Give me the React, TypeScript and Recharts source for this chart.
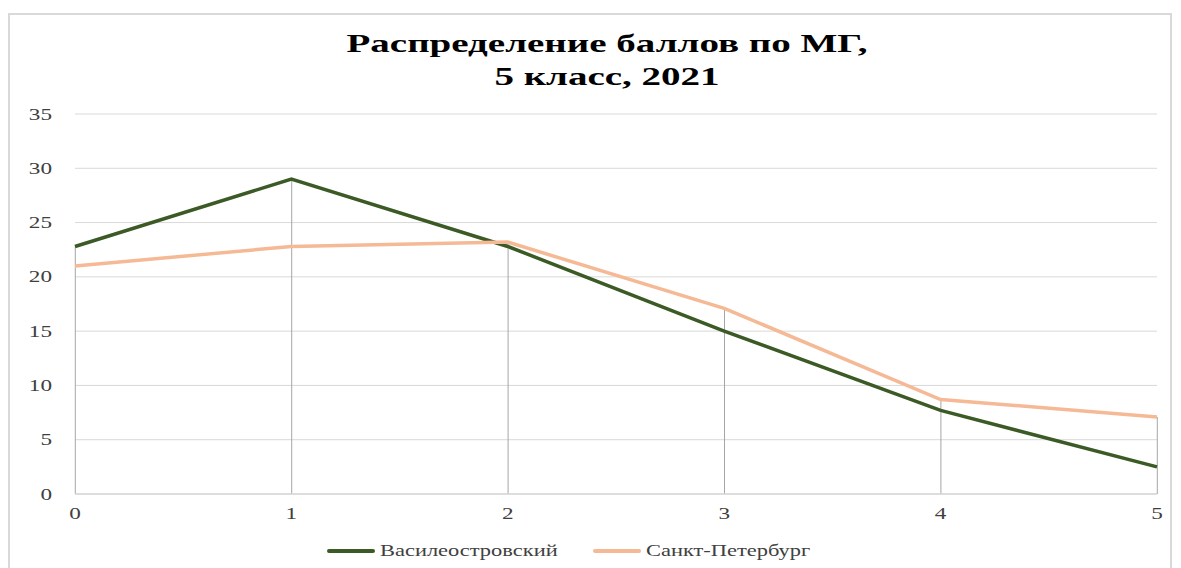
import React from "react";
import { ComposedChart, Line, Bar, XAxis, YAxis, CartesianGrid } from "recharts";

const scores = [0, 1, 2, 3, 4, 5];
const vasileostrovsky = [22.8, 29.0, 22.8, 15.0, 7.7, 2.5];
const spb = [21.0, 22.8, 23.2, 17.1, 8.7, 7.1];
const yTicks = [0, 5, 10, 15, 20, 25, 30, 35];

const SERIES = [
  { key: "vas", name: "Василеостровский", color: "#3b5a25" },
  { key: "spb", name: "Санкт-Петербург", color: "#f5b995" },
];

const data = scores.map((s, i) => ({
  score: s,
  vas: vasileostrovsky[i],
  spb: spb[i],
  drop: Math.max(vasileostrovsky[i], spb[i]),
}));

const FONT = '"Liberation Serif", "Times New Roman", serif';
const STRETCH = 1.45;

function StretchTick(props: any) {
  const { x, y, payload, axis } = props;
  const isY = axis === "y";
  return (
    <g transform={`translate(${x},${y})`}>
      <text
        transform={`scale(${STRETCH},1)`}
        textAnchor={isY ? "end" : "middle"}
        dy={isY ? "0.35em" : "0.71em"}
        fontSize={16}
        fontFamily={FONT}
        fill="#404040"
      >
        {payload.value}
      </text>
    </g>
  );
}

function ChartLegend() {
  return (
    <div
      style={{
        position: "absolute",
        top: 526,
        left: 317,
        height: 20,
        display: "flex",
        alignItems: "center",
      }}
    >
      {SERIES.map((s, i) => (
        <div key={s.key} style={{ display: "flex", alignItems: "center", marginLeft: i ? 33 : 0 }}>
          <div style={{ width: 48, height: 4, borderRadius: 2, background: s.color, marginRight: 5 }} />
          <div
            style={{
              fontFamily: FONT,
              fontSize: 17,
              color: "#404040",
              transform: "scaleX(1.32)",
              transformOrigin: "left center",
              width: 180,
              whiteSpace: "nowrap",
            }}
          >
            {s.name}
          </div>
        </div>
      ))}
    </div>
  );
}

export default function App() {
  return (
    <div
      style={{
        position: "relative",
        width: 1164,
        height: 560,
        marginTop: 5,
        border: "2px solid #d9d9d9",
        boxSizing: "border-box",
        background: "#fff",
      }}
    >
      <div
        style={{
          position: "absolute",
          top: 12,
          left: 17,
          width: 1160,
          textAlign: "center",
          fontFamily: FONT,
          fontWeight: "bold",
          fontSize: 26,
          lineHeight: "33px",
          color: "#000",
          transform: "scaleX(1.5)",
          transformOrigin: "580px 0",
          zIndex: 2,
        }}
      >
        Распределение баллов по МГ,
        <br />
        5 класс, 2021
      </div>
      <ComposedChart
        width={1160}
        height={556}
        data={data}
        margin={{ top: 99, right: 13, bottom: 47, left: 0 }}
      >
        <CartesianGrid vertical={false} stroke="#d9d9d9" strokeWidth={1} />
        <XAxis
          dataKey="score"
          type="number"
          domain={[0, 5]}
          ticks={scores}
          axisLine={{ stroke: "#d9d9d9", strokeWidth: 1.5 }}
          tickLine={false}
          tickMargin={8}
          tick={<StretchTick axis="x" />}
        />
        <YAxis
          type="number"
          domain={[0, 35]}
          ticks={yTicks}
          width={65}
          axisLine={false}
          tickLine={false}
          tickMargin={17}
          tick={<StretchTick axis="y" />}
        />
        <Bar dataKey="drop" barSize={1} fill="#a6a6a6" isAnimationActive={false} legendType="none" />
        {SERIES.map((s) => (
          <Line
            key={s.key}
            type="linear"
            dataKey={s.key}
            name={s.name}
            stroke={s.color}
            strokeWidth={3.5}
            dot={false}
            activeDot={false}
            isAnimationActive={false}
          />
        ))}
      </ComposedChart>
      <ChartLegend />
    </div>
  );
}
